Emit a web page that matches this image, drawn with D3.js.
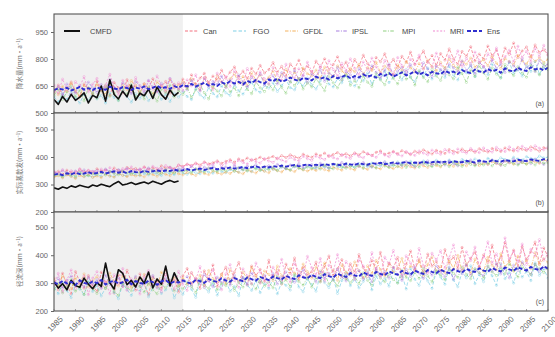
<!DOCTYPE html>
<html>
<head>
<meta charset="utf-8">
<script src="https://cdn.jsdelivr.net/npm/d3@7"></script>
<style>
  html, body { margin: 0; padding: 0; background: #fff; }
  svg { display: block; font-family: "Liberation Sans", Arial, sans-serif; }
</style>
</head>
<body>
<svg id="chart" width="555" height="337"></svg>
<script>
// ---- data -------------------------------------------------------------
const years = d3.range(1985, 2101);          // 1985 .. 2100
const cmfdYears = d3.range(1985, 2015);      // 1985 .. 2014
const histEnd = 2015;
const xTickYears = d3.range(1985, 2101, 5);

const seriesNames = ["Can", "FGO", "GFDL", "IPSL", "MPI", "MRI", "Ens"];
const panelTags = ["(a)", "(b)", "(c)"];
const yTitles = ["降水量", "实际蒸散发", "径流深"];
const yTicksA = [500, 650, 800, 950];
const yTicksB = [200, 300, 400, 500];
const yTicksC = [200, 300, 400, 500];

// (a) annual precipitation
const cmfdA = [575,548,592,561,604,570,588,612,556,598,
  585,650,566,684,603,578,621,590,655,572,
  610,596,632,581,644,602,577,628,595,615];
const canA = [612,655,598,640,672,618,590,661,634,605,
  676,622,648,597,669,640,612,685,628,654,
  603,662,637,690,619,648,675,611,659,632,
  688,645,712,661,694,720,668,705,682,738,
  694,727,756,701,733,689,748,716,764,722,
  741,780,728,759,705,772,745,793,736,761,
  722,788,754,801,740,769,812,748,783,730,
  797,760,821,775,742,808,785,829,764,798,
  752,815,782,838,770,806,845,781,819,763,
  830,794,856,802,771,842,815,868,790,827,
  801,872,818,849,785,861,826,889,808,845,
  867,812,878,836,851,824];
const fgoA = [590,562,608,575,621,583,556,602,570,615,
  578,598,555,612,586,569,624,591,560,607,
  582,617,569,595,628,576,603,564,611,588,
  620,592,575,634,601,583,642,609,590,651,
  612,598,660,624,605,643,671,628,615,654,
  638,667,620,652,685,641,629,672,650,694,
  657,633,680,704,661,645,692,668,712,674,
  650,698,679,722,660,705,687,731,669,700,
  718,684,741,697,674,728,706,750,689,715,
  736,698,759,711,684,743,724,768,702,731,
  756,713,772,727,695,748,781,720,739,705,
  764,731,787,716,750,742];
const gfdlA = [635,602,648,619,666,627,594,652,638,610,
  659,625,603,671,642,616,657,629,680,645,
  614,662,637,605,673,648,622,685,640,658,
  671,636,689,654,627,695,662,640,708,674,
  645,690,718,667,702,652,724,683,711,676,
  698,735,680,713,742,694,726,685,749,718,
  707,738,692,755,721,701,762,733,715,748,
  729,770,716,752,736,781,724,760,741,712,
  767,738,786,751,729,774,746,793,758,735,
  781,750,799,764,742,788,771,805,755,779,
  796,763,812,777,748,803,785,768,819,790,
  772,814,787,806,781,799];
const ipslA = [620,648,603,661,635,612,654,627,671,640,
  615,658,632,686,641,620,667,649,608,675,
  652,626,681,644,617,665,639,692,655,631,
  664,629,681,650,622,693,647,675,658,704,
  641,683,660,711,672,645,698,681,719,655,
  688,707,662,724,694,671,735,689,710,668,
  716,697,741,676,722,705,753,684,730,712,
  690,745,718,701,762,726,695,739,771,708,
  733,754,712,768,737,720,779,745,702,760,
  742,716,773,751,729,788,736,764,719,782,
  757,731,794,748,770,725,786,762,741,801,
  748,777,730,792,759,771];
const mpiA = [598,633,575,617,649,590,627,568,640,606,
  582,625,652,593,611,570,638,604,659,587,
  620,578,645,601,566,632,612,654,589,624,
  603,641,587,629,660,612,578,647,622,595,
  655,618,640,596,668,631,607,674,640,619,
  661,628,684,642,610,675,652,690,633,667,
  645,691,659,624,702,668,640,685,711,654,
  679,640,706,671,648,718,684,657,723,692,
  662,729,688,701,655,735,697,674,742,706,
  681,748,712,690,755,719,670,738,703,762,
  724,688,751,716,695,769,730,708,757,721,
  699,766,735,712,774,741];
const mriA = [655,610,688,632,598,674,645,702,618,660,
  692,628,655,715,640,603,681,650,622,697,
  645,612,678,633,706,651,620,689,642,668,
  625,684,651,712,638,697,665,629,721,673,
  702,648,735,689,658,747,705,671,728,690,
  661,752,712,683,771,725,694,745,707,782,
  731,698,764,719,790,742,705,776,736,801,
  748,712,783,739,805,756,721,792,751,716,
  808,763,729,798,772,821,744,786,757,832,
  769,738,815,781,845,759,802,774,838,791,
  756,829,794,861,777,812,848,783,871,809,
  842,788,857,813,876,821];
const ensA = [628,636,631,640,625,634,645,630,638,627,
  642,633,629,647,636,631,644,639,628,641,
  635,648,632,640,651,637,643,634,649,641,
  655,648,662,646,658,668,653,661,650,670,
  661,676,664,673,658,679,667,683,671,664,
  686,676,692,674,682,697,685,678,695,689,
  681,702,691,698,685,705,693,701,710,693,
  705,697,714,702,709,696,717,707,721,703,
  713,726,709,719,731,714,724,709,729,721,
  716,734,724,730,716,738,727,722,741,731,
  725,744,732,740,724,748,736,730,752,739,
  733,754,742,748,737,752];

// (b) annual actual evapotranspiration
const cmfdB = [288,283,291,286,295,290,297,293,289,298,
  294,301,296,292,303,311,298,302,307,300,
  305,309,303,312,306,301,310,315,308,313];
const canB = [341,348,337,352,344,339,355,346,350,342,
  357,349,353,345,360,351,347,362,355,358,
  350,364,356,361,353,368,359,363,357,370,
  366,374,369,378,371,382,375,379,386,377,
  384,390,381,393,387,396,388,392,399,391,
  397,402,394,405,398,408,401,396,410,403,
  399,411,405,414,402,409,416,406,412,404,
  415,408,419,411,406,417,422,410,414,420,
  412,423,416,409,421,414,426,418,411,424,
  419,413,427,421,416,429,420,425,417,430,
  423,418,431,425,420,433,426,422,435,428,
  424,437,429,421,434,430];
const fgoB = [330,334,327,336,331,325,338,329,333,327,
  335,330,339,332,328,341,334,331,343,336,
  332,340,335,344,337,333,346,339,336,348,
  341,337,349,343,339,352,345,341,354,347,
  343,355,349,345,358,351,347,360,353,349,
  362,355,351,364,357,353,366,359,355,368,
  361,357,370,363,359,372,365,361,374,367,
  363,376,369,365,378,371,367,380,373,369,
  382,375,371,384,377,373,386,379,375,388,
  381,377,389,383,379,391,385,381,393,387,
  383,395,389,385,397,391,387,399,393,389,
  401,395,391,403,397,399];
const gfdlB = [327,332,324,335,329,322,333,328,336,326,
  331,325,338,330,327,340,333,329,336,331,
  334,328,341,336,330,343,337,332,345,339,
  335,344,338,333,347,340,336,349,342,338,
  345,340,351,344,339,353,347,342,355,348,
  343,356,350,346,358,352,347,360,353,349,
  356,351,361,354,350,363,357,352,365,358,
  353,366,360,355,368,361,357,370,363,358,
  366,361,372,365,360,374,368,362,376,369,
  364,377,371,366,379,372,368,381,374,369,
  378,373,383,376,371,385,379,374,387,380,
  375,388,382,377,390,384];
const ipslB = [345,340,351,343,338,349,344,353,341,347,
  350,344,356,347,342,354,349,358,346,352,
  355,348,360,351,346,358,353,362,350,357,
  360,353,365,356,350,363,358,368,354,361,
  364,357,369,360,354,367,362,372,358,365,
  368,360,373,364,357,371,365,376,361,369,
  372,363,377,367,360,374,369,380,364,372,
  375,366,380,370,363,377,372,383,367,375,
  378,369,383,373,365,380,375,386,370,378,
  381,371,386,376,368,383,378,389,372,381,
  384,374,389,378,370,386,380,392,375,384,
  387,376,392,381,373,389];
const mpiB = [333,338,329,341,335,330,344,336,332,339,
  337,343,334,347,340,335,349,342,338,345,
  341,348,339,351,344,340,353,347,342,350,
  346,352,343,357,349,345,360,351,347,355,
  350,357,348,361,353,349,364,356,351,359,
  354,361,352,366,358,353,368,360,355,363,
  358,365,356,370,361,357,372,364,359,367,
  362,369,359,373,365,360,376,367,362,371,
  365,372,362,377,368,363,379,370,365,374,
  368,375,365,380,371,366,382,373,368,377,
  371,378,368,383,374,369,385,376,371,380,
  374,381,371,386,377,379];
const mriB = [348,342,354,339,350,346,357,343,352,348,
  344,356,349,361,351,345,358,353,364,350,
  357,362,352,366,359,355,369,361,357,371,
  364,372,367,375,362,379,370,374,381,368,
  377,384,373,388,380,375,391,383,378,394,
  385,380,396,389,383,399,391,386,402,394,
  388,403,396,391,406,398,393,409,400,395,
  411,402,397,413,405,399,416,407,401,418,
  409,404,420,412,406,422,414,408,425,416,
  410,427,418,412,429,420,414,431,422,416,
  433,424,418,435,426,420,437,428,422,439,
  430,424,441,432,426,436];
const ensB = [336,339,334,341,337,343,338,340,345,339,
  342,346,340,344,348,343,347,341,349,345,
  343,350,346,348,352,347,351,349,354,350,
  352,356,351,355,358,353,357,360,355,359,
  357,362,358,360,364,359,363,366,361,365,
  362,367,364,369,365,368,371,366,370,373,
  368,372,369,374,371,375,372,370,376,373,
  371,377,374,372,378,375,379,374,377,380,
  376,379,382,377,380,378,383,379,381,384,
  380,383,379,385,382,381,386,383,380,387,
  384,382,388,385,383,389,386,384,390,387,
  385,391,388,386,392,389];

// (c) annual runoff depth
const cmfdC = [305,282,298,276,310,291,285,318,296,280,
  302,288,372,301,279,348,335,294,310,286,
  322,299,340,283,315,296,361,290,337,305];
const canC = [318,276,335,294,262,341,305,282,327,290,
  270,339,301,317,264,329,288,346,306,275,
  333,296,258,322,310,281,349,292,315,268,
  326,352,297,318,281,344,309,365,288,331,
  357,302,339,374,315,293,361,327,349,306,
  382,318,344,297,368,335,390,312,357,329,
  341,375,306,362,397,328,351,384,317,369,
  338,402,356,324,381,347,410,333,372,355,
  392,321,368,415,349,386,336,404,361,377,
  344,420,371,395,352,428,363,389,412,358,
  401,374,436,366,392,445,378,418,357,431,
  384,412,447,369,426,395];
const fgoC = [285,262,301,273,248,296,278,259,307,270,
  292,254,283,311,266,244,298,277,256,289,
  272,305,251,284,293,263,276,302,247,281,
  260,295,278,249,312,284,268,301,257,290,
  306,271,288,255,319,293,274,310,266,298,
  281,316,262,304,292,275,327,286,269,313,
  295,271,331,302,284,320,263,309,338,291,
  315,283,306,342,276,325,297,318,289,346,
  301,330,279,352,314,292,337,308,281,344,
  322,296,358,311,287,340,319,362,298,330,
  305,348,326,292,369,316,338,300,355,322,
  341,309,372,328,351,318];
const gfdlC = [311,289,326,302,280,318,295,333,287,309,
  323,298,281,336,306,290,327,312,284,319,
  301,331,294,317,285,339,308,296,324,289,
  318,296,337,309,328,291,345,316,303,332,
  297,348,320,306,339,315,356,325,301,343,
  331,309,361,327,315,352,336,322,368,341,
  318,357,333,372,326,347,310,365,339,328,
  376,344,319,362,335,381,348,326,370,339,
  353,388,331,361,346,379,325,367,394,342,
  360,337,383,351,399,345,370,334,386,357,
  341,392,364,348,405,359,377,343,396,368,
  381,352,409,366,387,374];
const ipslC = [299,317,283,309,325,291,306,286,321,297,
  312,281,328,295,304,319,288,311,296,324,
  289,315,301,327,283,309,318,292,330,298,
  306,323,290,314,298,331,309,287,321,302,
  315,293,328,307,320,296,336,312,301,327,
  309,334,297,321,340,315,303,329,347,318,
  326,304,343,317,335,311,350,322,308,339,
  321,345,314,333,305,352,327,341,318,356,
  331,310,349,324,358,336,317,345,329,362,
  340,323,355,314,347,334,366,328,351,337,
  326,359,342,371,333,352,319,364,345,376,
  349,331,368,342,358,351];
const mpiC = [276,298,265,289,312,271,285,259,302,280,
  263,294,281,307,270,256,299,284,273,309,
  287,268,301,276,262,295,283,310,272,290,
  279,304,288,266,315,293,281,308,276,299,
  291,313,274,302,286,321,297,279,316,289,
  304,283,326,298,312,287,331,305,293,320,
  286,318,304,335,297,311,290,328,315,301,
  323,298,337,310,292,341,318,305,332,313,
  300,346,321,309,338,317,353,326,304,343,
  329,312,348,335,321,357,331,316,351,337,
  318,362,340,327,355,334,368,345,322,359,
  346,331,367,352,338,357];
const mriC = [292,335,268,311,347,280,303,326,259,318,
  341,284,306,262,330,297,352,274,315,289,
  261,324,345,287,303,269,331,310,278,342,
  296,274,338,312,359,285,323,347,301,276,
  333,366,309,285,351,326,298,372,340,314,
  291,357,330,385,318,304,371,343,322,396,
  355,329,388,307,364,341,402,325,377,350,
  313,384,361,337,409,346,323,393,368,417,
  352,329,398,372,345,424,361,336,407,383,
  416,354,391,437,368,345,412,381,429,360,
  393,448,371,405,359,462,388,414,376,440,
  367,421,398,456,382,408];
const ensC = [302,296,308,299,305,293,310,301,297,306,
  300,311,295,304,309,298,303,312,296,307,
  301,297,309,304,294,306,311,299,305,302,
  310,303,298,312,307,301,315,308,304,317,
  309,305,318,312,307,320,314,309,322,316,
  311,324,318,313,326,319,315,328,321,317,
  330,322,318,332,325,320,334,327,322,336,
  328,324,338,331,326,340,333,328,342,335,
  330,344,336,331,345,338,333,347,340,335,
  348,341,336,350,343,338,351,344,340,353,
  345,341,354,347,342,356,349,344,357,350,
  345,358,351,347,360,352];

// ---- styling ----------------------------------------------------------
const styles = {
  CMFD: { color: "#111111", width: 1.6, dash: null },
  Can:  { color: "#f2707f", width: 0.8, dash: "3,1.6" },
  FGO:  { color: "#7fd0e6", width: 0.8, dash: "3.5,2" },
  GFDL: { color: "#f4b25e", width: 0.8, dash: "3.5,1.4,1,1.4" },
  IPSL: { color: "#a77fe0", width: 0.8, dash: "3.5,1.4,1,1.4" },
  MPI:  { color: "#8fcf80", width: 0.8, dash: "3.5,1.4,1,1.4" },
  MRI:  { color: "#f08ad2", width: 0.8, dash: "2,1.6" },
  Ens:  { color: "#2f2fcf", width: 1.9, dash: "4,2" }
};

const panels = [
  { top: 14,  bottom: 113, domain: [500, 1050], ticks: yTicksA, cmfd: cmfdA,
    models: { Can: canA, FGO: fgoA, GFDL: gfdlA, IPSL: ipslA, MPI: mpiA, MRI: mriA, Ens: ensA } },
  { top: 113, bottom: 212, domain: [200, 560], ticks: yTicksB, cmfd: cmfdB,
    models: { Can: canB, FGO: fgoB, GFDL: gfdlB, IPSL: ipslB, MPI: mpiB, MRI: mriB, Ens: ensB } },
  { top: 212, bottom: 311, domain: [200, 555], ticks: yTicksC, cmfd: cmfdC,
    models: { Can: canC, FGO: fgoC, GFDL: gfdlC, IPSL: ipslC, MPI: mpiC, MRI: mriC, Ens: ensC } }
];

const left = 54, right = 548;
const svg = d3.select("#chart");
const x = d3.scaleLinear().domain([1985, 2100]).range([left, right]);

panels.forEach((p, i) => {
  const y = d3.scaleLinear().domain(p.domain).range([p.bottom, p.top]);
  const g = svg.append("g");
  const clipId = "clip" + i;
  svg.append("clipPath").attr("id", clipId)
    .append("rect").attr("x", left).attr("y", p.top)
    .attr("width", right - left).attr("height", p.bottom - p.top);

  // historical period shading
  g.append("rect")
    .attr("x", x(1985)).attr("y", p.top)
    .attr("width", x(histEnd) - x(1985)).attr("height", p.bottom - p.top)
    .attr("fill", "#f0f0f0");

  const plot = g.append("g").attr("clip-path", `url(#${clipId})`);
  const line = d3.line().x(d => x(d[0])).y(d => y(d[1]));

  // model runs with small hollow markers
  seriesNames.filter(n => n !== "Ens").forEach(name => {
    const st = styles[name];
    const pts = years.map((yr, k) => [yr, p.models[name][k]]);
    plot.append("path").datum(pts)
      .attr("d", line).attr("fill", "none")
      .attr("stroke", st.color).attr("stroke-width", st.width)
      .attr("stroke-dasharray", st.dash).attr("stroke-opacity", 0.9);
    plot.append("g").selectAll("circle").data(pts).join("circle")
      .attr("cx", d => x(d[0])).attr("cy", d => y(d[1])).attr("r", 1.1)
      .attr("fill", "none").attr("stroke", st.color)
      .attr("stroke-width", 0.5).attr("stroke-opacity", 0.8);
  });

  // observed series
  const obs = cmfdYears.map((yr, k) => [yr, p.cmfd[k]]);
  plot.append("path").datum(obs)
    .attr("d", line).attr("fill", "none")
    .attr("stroke", styles.CMFD.color).attr("stroke-width", styles.CMFD.width)
    .attr("stroke-linejoin", "round");

  // ensemble mean
  const ens = years.map((yr, k) => [yr, p.models.Ens[k]]);
  plot.append("path").datum(ens)
    .attr("d", line).attr("fill", "none")
    .attr("stroke", styles.Ens.color).attr("stroke-width", styles.Ens.width)
    .attr("stroke-dasharray", styles.Ens.dash);

  // frame
  g.append("rect")
    .attr("x", left).attr("y", p.top)
    .attr("width", right - left).attr("height", p.bottom - p.top)
    .attr("fill", "none").attr("stroke", "#555").attr("stroke-width", 1.1);

  // y axis
  const ya = g.append("g").attr("transform", `translate(${left},0)`)
    .call(d3.axisLeft(y).tickValues(p.ticks).tickSize(3).tickPadding(3));
  ya.select(".domain").remove();
  ya.selectAll("line").attr("stroke", "#666");
  ya.selectAll("text").attr("fill", "#666").style("font-size", "7.5px");

  // x tick marks on each panel bottom
  g.append("g").selectAll("line").data(xTickYears).join("line")
    .attr("x1", d => x(d)).attr("x2", d => x(d))
    .attr("y1", p.bottom).attr("y2", p.bottom - 2)
    .attr("stroke", "#666").attr("stroke-width", 0.6);

  // y title
  const cy = (p.top + p.bottom) / 2;
  const t = g.append("text")
    .attr("transform", `translate(22,${cy}) rotate(-90)`)
    .attr("text-anchor", "middle")
    .attr("fill", "#777")
    .style("font-size", "6.5px")
    .style("font-family", "'Noto Sans CJK SC', sans-serif");
  t.append("tspan").text(yTitles[i] + "(mm·a");
  t.append("tspan").attr("dy", -2.5).style("font-size", "4.5px").text("−1");
  t.append("tspan").attr("dy", 2.5).text(")");

  // panel tag
  g.append("text")
    .attr("x", right - 4).attr("y", p.bottom - 7)
    .attr("text-anchor", "end").attr("fill", "#555")
    .style("font-size", "7px").text(panelTags[i]);
});

// x axis labels (bottom panel)
const bottom = panels[2].bottom;
svg.append("g").selectAll("text").data(xTickYears).join("text")
  .attr("transform", d => `translate(${x(d) + 3},${bottom + 15}) rotate(-45)`)
  .attr("text-anchor", "middle")
  .attr("fill", "#666")
  .style("font-size", "8px")
  .text(d => d);

// legend
const legendY = 31;
const legendItems = [
  { name: "CMFD", x0: 64, len: 16, tx: 90 },
  { name: "Can",  x0: 185, len: 13, tx: 203 },
  { name: "FGO",  x0: 233, len: 13, tx: 253 },
  { name: "GFDL", x0: 285, len: 13, tx: 303 },
  { name: "IPSL", x0: 336, len: 12, tx: 352 },
  { name: "MPI",  x0: 383, len: 12, tx: 402 },
  { name: "MRI",  x0: 433, len: 12, tx: 450 },
  { name: "Ens",  x0: 467, len: 15, tx: 487 }
];
const lg = svg.append("g");
legendItems.forEach(it => {
  const st = styles[it.name];
  lg.append("line")
    .attr("x1", it.x0).attr("x2", it.x0 + it.len)
    .attr("y1", legendY).attr("y2", legendY)
    .attr("stroke", st.color)
    .attr("stroke-width", it.name === "CMFD" ? 2 : st.width + 0.3)
    .attr("stroke-dasharray", st.dash);
  lg.append("text")
    .attr("x", it.tx).attr("y", legendY + 2.7)
    .attr("fill", "#444").style("font-size", "7.5px")
    .text(it.name);
});
</script>
</body>
</html>
